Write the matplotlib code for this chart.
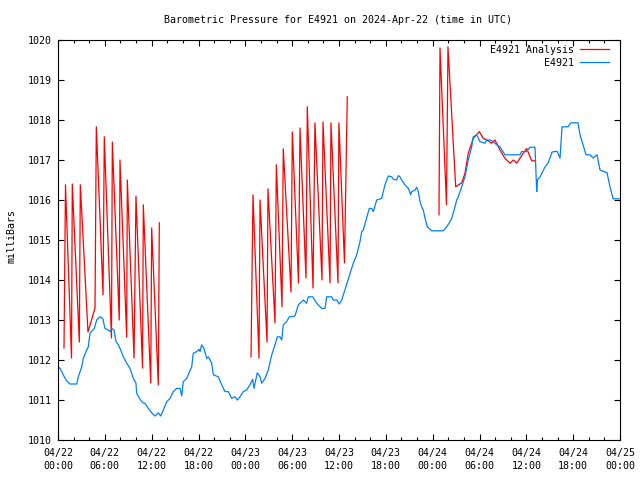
import matplotlib
matplotlib.use("Agg")
import matplotlib.pyplot as plt
from matplotlib.ticker import MultipleLocator

# hours since 2024-04-22 00:00 UTC, pressure in mb
station_hours = [0, 0.26, 0.68, 1.02, 1.54, 2.40, 2.60, 3.04, 3.24, 3.68, 3.88, 4.10, 4.65, 4.96,
                 5.38, 5.73, 6.02, 6.44, 6.66, 6.88, 7.17, 7.43, 7.73, 8.03, 8.37, 8.80, 9.22,
                 9.65, 9.99, 10.08, 10.51, 10.85, 11.15, 11.57, 12.00, 12.43, 12.85, 13.16,
                 13.49, 13.93, 14.35, 14.77, 15.21, 15.63, 15.85, 16.05, 16.49, 17.13, 17.33,
                 17.77, 18.06, 18.19, 18.41, 18.70, 19.05, 19.26, 19.69, 19.90, 20.54, 20.97,
                 21.39, 21.82, 22.25, 22.68, 22.97, 23.32, 23.74, 24.17, 24.60, 24.94, 25.11,
                 25.53, 25.88, 26.10, 26.52, 26.94, 27.38, 27.80, 28.10, 28.44, 28.66, 28.86,
                 29.30, 29.63, 30.36, 30.79, 31.43, 31.86, 32.07, 32.63, 33.14, 33.78, 34.21,
                 34.42, 35.06, 35.27, 35.70, 36.04, 36.35, 36.99, 37.41, 37.83, 38.27, 38.69,
                 38.91, 39.11, 39.46, 39.88, 40.19, 40.39, 40.83, 41.47, 41.89, 42.32, 42.75,
                 42.96, 43.39, 43.60, 43.81, 44.03, 44.45, 44.88, 45.19, 45.31, 45.74, 45.95,
                 46.16, 46.38, 46.59, 46.80, 47.02, 47.31, 47.88, 49.36, 49.80, 50.22, 50.44,
                 50.86, 51.08, 51.28, 51.72, 52.14, 52.56, 53.00, 53.20, 53.64, 54.06, 54.70,
                 54.92, 55.34, 55.77, 56.20, 56.62, 57.27, 59.19, 59.40, 60.04, 60.47, 61.11,
                 61.33, 61.43, 61.76, 62.40, 62.78, 63.30, 63.93, 64.32, 64.57, 65.34, 65.72,
                 66.62, 66.88, 67.65, 68.16, 68.55, 69.06, 69.44, 70.34, 70.72, 71.11, 72.00]
station_mb = [1011.83, 1011.79, 1011.63, 1011.50, 1011.40, 1011.40, 1011.58, 1011.83, 1012.04,
              1012.25, 1012.33, 1012.67, 1012.79, 1013.00, 1013.08, 1013.04, 1012.79, 1012.75,
              1012.71, 1012.79, 1012.75, 1012.46, 1012.38, 1012.25, 1012.08, 1011.92, 1011.79,
              1011.54, 1011.42, 1011.17, 1011.02, 1010.93, 1010.92, 1010.79, 1010.68, 1010.60,
              1010.68, 1010.60, 1010.75, 1010.96, 1011.04, 1011.21, 1011.29, 1011.29, 1011.10,
              1011.46, 1011.54, 1011.83, 1012.17, 1012.21, 1012.27, 1012.21, 1012.38, 1012.29,
              1012.04, 1012.08, 1011.92, 1011.63, 1011.58, 1011.38, 1011.21, 1011.21, 1011.04,
              1011.08, 1011.00, 1011.08, 1011.21, 1011.25, 1011.38, 1011.52, 1011.29, 1011.68,
              1011.58, 1011.42, 1011.54, 1011.75, 1012.13, 1012.38, 1012.58, 1012.58, 1012.50,
              1012.88, 1012.96, 1013.08, 1013.10, 1013.38, 1013.50, 1013.42, 1013.58, 1013.58,
              1013.42, 1013.29, 1013.29, 1013.58, 1013.58, 1013.50, 1013.50, 1013.40, 1013.50,
              1013.90, 1014.17, 1014.42, 1014.63, 1014.96, 1015.21, 1015.25, 1015.50, 1015.79,
              1015.79, 1015.71, 1016.00, 1016.04, 1016.38, 1016.60, 1016.58, 1016.52, 1016.50,
              1016.61, 1016.58, 1016.50, 1016.38, 1016.29, 1016.13, 1016.21, 1016.25, 1016.32,
              1016.21, 1015.96, 1015.83, 1015.75, 1015.54, 1015.33, 1015.23, 1015.23, 1015.33,
              1015.46, 1015.54, 1015.83, 1016.00, 1016.08, 1016.33, 1016.58, 1017.00, 1017.33,
              1017.58, 1017.63, 1017.46, 1017.42, 1017.50, 1017.50, 1017.46, 1017.38, 1017.33,
              1017.13, 1017.13, 1017.21, 1017.21, 1017.32, 1017.32, 1016.21, 1016.50, 1016.58,
              1016.83, 1016.92, 1017.20, 1017.22, 1017.05, 1017.83, 1017.83, 1017.93, 1017.93,
              1017.63, 1017.13, 1017.13, 1017.05, 1017.13, 1016.75, 1016.68, 1016.33, 1016.03,
              1016.03]

# analysis comes in three runs, one list each
analysis_hours_1 = [0.77, 0.96, 1.73, 1.83, 2.73, 2.86, 3.84, 4.74, 4.91, 5.77, 5.93, 6.85, 6.96,
                    7.85, 7.94, 8.80, 8.88, 9.74, 9.99, 10.83, 10.93, 11.88, 12.00, 12.85, 12.98]
analysis_mb_1 = [1012.30, 1016.38, 1012.05, 1016.40, 1012.45, 1016.38, 1012.70, 1013.30, 1017.83,
                 1013.63, 1017.58, 1012.55, 1017.45, 1013.00, 1017.00, 1012.57, 1016.50, 1012.05,
                 1016.10, 1011.80, 1015.88, 1011.43, 1015.30, 1011.38, 1015.43]
analysis_hours_2 = [24.73, 24.98, 25.75, 25.88, 26.78, 26.90, 27.80, 27.97, 28.70, 28.86, 29.85,
                    30.02, 30.81, 31.00, 31.77, 31.94, 32.67, 32.92, 33.82, 33.95, 34.85, 34.97,
                    35.87, 35.99, 36.70, 37.06]
analysis_mb_2 = [1012.08, 1016.13, 1012.05, 1016.00, 1012.45, 1016.28, 1012.93, 1016.88, 1013.33,
                 1017.28, 1013.70, 1017.70, 1013.93, 1017.80, 1014.05, 1018.33, 1013.80, 1017.93,
                 1014.00, 1017.95, 1013.93, 1017.93, 1013.93, 1017.93, 1014.43, 1018.58]
analysis_hours_3 = [48.81, 48.94, 49.77, 49.96, 50.95, 51.72, 52.14, 52.56, 53.20, 53.97, 54.49,
                    54.92, 55.56, 55.98, 56.62, 57.27, 57.91, 58.33, 58.76, 59.61, 60.04, 60.47,
                    60.69, 61.11]
analysis_mb_3 = [1015.63, 1019.80, 1015.88, 1019.83, 1016.33, 1016.43, 1016.67, 1017.17, 1017.54,
                 1017.71, 1017.54, 1017.50, 1017.42, 1017.50, 1017.25, 1017.04, 1016.92, 1017.00,
                 1016.92, 1017.17, 1017.29, 1017.08, 1016.98, 1016.98]

tick_hours = list(range(0, 73, 6))
tick_labels = ['04/22\n00:00', '04/22\n06:00', '04/22\n12:00', '04/22\n18:00',
               '04/23\n00:00', '04/23\n06:00', '04/23\n12:00', '04/23\n18:00',
               '04/24\n00:00', '04/24\n06:00', '04/24\n12:00', '04/24\n18:00',
               '04/25\n00:00']

plt.rcParams['font.family'] = ['DejaVu Sans Mono']
plt.rcParams['font.size'] = 7.2

fig = plt.figure(figsize=(6.4, 4.8), dpi=100)
ax = fig.add_axes([58 / 640, 40 / 480, 562 / 640, 400 / 480])

red = '#ff0000'
blue = '#0080ff'
ax.plot(analysis_hours_1, analysis_mb_1, color=red, lw=0.9, label='E4921 Analysis')
ax.plot(analysis_hours_2, analysis_mb_2, color=red, lw=0.9)
ax.plot(analysis_hours_3, analysis_mb_3, color=red, lw=0.9)
ax.plot(station_hours, station_mb, color=blue, lw=0.9, label='E4921'.rjust(14))

ax.set_xlim(0, 72)
ax.set_ylim(1010, 1020)
ax.set_xticks(tick_hours)
ax.set_xticklabels(tick_labels, linespacing=1.35)
ax.xaxis.set_minor_locator(MultipleLocator(2))
ax.yaxis.set_major_locator(MultipleLocator(1))
ax.tick_params(which='both', direction='in', top=True, right=True, width=0.8, colors='black')
ax.tick_params(which='major', length=4.5)
ax.tick_params(which='minor', length=2.5)
ax.tick_params(axis='x', pad=6)
ax.tick_params(axis='y', pad=4.5)
for s in ax.spines.values():
    s.set_linewidth(0.8)

leg = ax.legend(loc='upper right', bbox_to_anchor=(1 - 6 / 562, 1), frameon=False,
                markerfirst=False, handlelength=2.9, handletextpad=0.6, labelspacing=0.3,
                borderaxespad=0.2, borderpad=0.3)

fig.text(338.5 / 640, 1 - 20 / 480, 'Barometric Pressure for E4921 on 2024-Apr-22 (time in UTC)',
         ha='center', va='center')
fig.text(12 / 640, 1 - 236 / 480, 'milliBars', rotation=90, ha='center', va='center')

fig.savefig('out.png', dpi=100)
